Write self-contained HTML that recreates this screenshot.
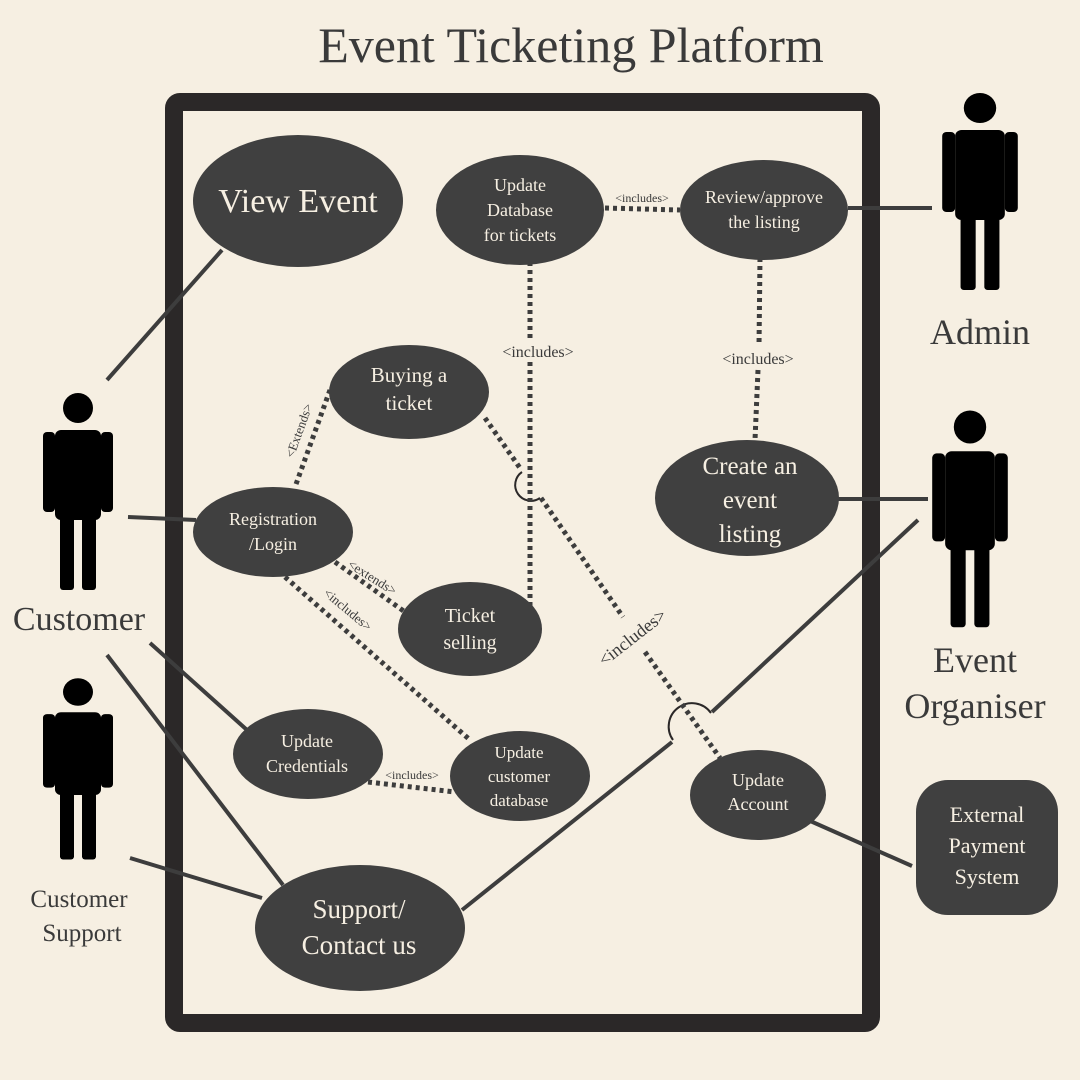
<!DOCTYPE html>
<html><head><meta charset="utf-8"><style>
html,body{margin:0;padding:0;background:#f6efe2;}
svg{display:block;}
text{font-family:"Liberation Serif",serif;}
</style></head><body>
<svg width="1080" height="1080" viewBox="0 0 1080 1080" xmlns="http://www.w3.org/2000/svg">
<rect width="1080" height="1080" fill="#f6efe2"/>
<text x="571" y="62" font-size="50" text-anchor="middle" fill="#3a3a3a">Event Ticketing Platform</text>
<rect x="174" y="102" width="697" height="921" rx="6" fill="none" stroke="#2b2828" stroke-width="18"/>

<g stroke="#3d3d3d" stroke-width="4" fill="none">
<line x1="107" y1="380" x2="222" y2="250"/>
<line x1="128" y1="517" x2="196" y2="520"/>
<line x1="150" y1="643" x2="247" y2="730"/>
<line x1="107" y1="655" x2="283" y2="885"/>
<line x1="130" y1="858" x2="262" y2="898"/>
<line x1="462" y1="910" x2="672" y2="742"/>
<line x1="712" y1="712" x2="918" y2="520"/>
<line x1="848" y1="208" x2="932" y2="208"/>
<line x1="836" y1="499" x2="928" y2="499"/>
<line x1="808" y1="820" x2="912" y2="866"/>
</g>
<g stroke="#2b2828" stroke-width="2" fill="none">
<path d="M673,740 A20,20 0 0 1 711,713"/>
<path d="M522,472 A14,14 0 0 0 540,498"/>
</g>
<g stroke="#3d3d3d" stroke-width="5" fill="none" stroke-dasharray="4 4">
<line x1="605" y1="208" x2="680" y2="210"/>
<line x1="530" y1="262" x2="530" y2="340"/>
<line x1="530" y1="362" x2="530" y2="607"/>
<line x1="760" y1="258" x2="759" y2="346"/>
<line x1="758" y1="370" x2="755" y2="440"/>
<line x1="330" y1="390" x2="295" y2="487"/>
<line x1="485" y1="418" x2="520" y2="468"/>
<line x1="541" y1="498" x2="623" y2="617"/>
<line x1="645" y1="652" x2="720" y2="758"/>
<line x1="335" y1="562" x2="405" y2="612"/>
<line x1="285" y1="577" x2="470" y2="740"/>
<line x1="368" y1="782" x2="455" y2="792"/>
</g>

<g fill="#3a3a3a" font-size="16">
<text x="642" y="202" font-size="12" text-anchor="middle">&lt;includes&gt;</text>
<text x="538" y="357" text-anchor="middle">&lt;includes&gt;</text>
<text x="758" y="364" text-anchor="middle">&lt;includes&gt;</text>
<text x="412" y="779" font-size="12" text-anchor="middle">&lt;includes&gt;</text>
<text transform="translate(303,432) rotate(-70)" font-size="13" text-anchor="middle">&lt;Extends&gt;</text>
<text transform="translate(370,581) rotate(32)" font-size="13" text-anchor="middle">&lt;extends&gt;</text>
<text transform="translate(345,613) rotate(40)" font-size="13" text-anchor="middle">&lt;includes&gt;</text>
<text transform="translate(636,642) rotate(-38)" font-size="18" text-anchor="middle">&lt;includes&gt;</text>
</g>

<g fill="#404040">
<ellipse cx="298" cy="201" rx="105" ry="66"/>
<ellipse cx="520" cy="210" rx="84" ry="55"/>
<ellipse cx="764" cy="210" rx="84" ry="50"/>
<ellipse cx="409" cy="392" rx="80" ry="47"/>
<ellipse cx="747" cy="498" rx="92" ry="58"/>
<ellipse cx="273" cy="532" rx="80" ry="45"/>
<ellipse cx="470" cy="629" rx="72" ry="47"/>
<ellipse cx="308" cy="754" rx="75" ry="45"/>
<ellipse cx="520" cy="776" rx="70" ry="45"/>
<ellipse cx="758" cy="795" rx="68" ry="45"/>
<ellipse cx="360" cy="928" rx="105" ry="63"/>
<rect x="916" y="780" width="142" height="135" rx="32"/>
</g>

<g fill="#f6efe2" text-anchor="middle">
<text x="298" y="212" font-size="34">View Event</text>
<text x="520" y="191" font-size="18">Update</text>
<text x="520" y="216" font-size="18">Database</text>
<text x="520" y="241" font-size="18">for tickets</text>
<text x="764" y="203" font-size="18">Review/approve</text>
<text x="764" y="228" font-size="18">the listing</text>
<text x="409" y="382" font-size="21">Buying a</text>
<text x="409" y="410" font-size="21">ticket</text>
<text x="750" y="474" font-size="25">Create an</text>
<text x="750" y="508" font-size="25">event</text>
<text x="750" y="542" font-size="25">listing</text>
<text x="273" y="525" font-size="18">Registration</text>
<text x="273" y="550" font-size="18">/Login</text>
<text x="470" y="622" font-size="20">Ticket</text>
<text x="470" y="649" font-size="20">selling</text>
<text x="307" y="747" font-size="18">Update</text>
<text x="307" y="772" font-size="18">Credentials</text>
<text x="519" y="758" font-size="17">Update</text>
<text x="519" y="782" font-size="17">customer</text>
<text x="519" y="806" font-size="17">database</text>
<text x="758" y="786" font-size="18">Update</text>
<text x="758" y="810" font-size="18">Account</text>
<text x="359" y="918" font-size="27">Support/</text>
<text x="359" y="954" font-size="27">Contact us</text>
<text x="987" y="822" font-size="22">External</text>
<text x="987" y="853" font-size="22">Payment</text>
<text x="987" y="884" font-size="22">System</text>
</g>

<defs>
<g id="actor" fill="#000">
<circle cx="0" cy="0" r="15"/>
<rect x="-23" y="22" width="46" height="90" rx="6"/>
<rect x="-35" y="24" width="12" height="80" rx="4"/>
<rect x="23" y="24" width="12" height="80" rx="4"/>
<rect x="-18" y="100" width="14" height="82" rx="3"/>
<rect x="4" y="100" width="14" height="82" rx="3"/>
</g>
</defs>
<use href="#actor" transform="translate(78,408)"/>
<use href="#actor" transform="translate(78,692) scale(1,0.92)"/>
<use href="#actor" transform="translate(980,108) scale(1.08,1.0)"/>
<use href="#actor" transform="translate(970,427) scale(1.08,1.1)"/>

<g fill="#3a3a3a" text-anchor="middle">
<text x="79" y="630" font-size="34">Customer</text>
<text x="79" y="907" font-size="25">Customer</text>
<text x="82" y="941" font-size="25">Support</text>
<text x="980" y="344" font-size="36">Admin</text>
<text x="975" y="672" font-size="36">Event</text>
<text x="975" y="718" font-size="36">Organiser</text>
</g>
</svg>
</body></html>
